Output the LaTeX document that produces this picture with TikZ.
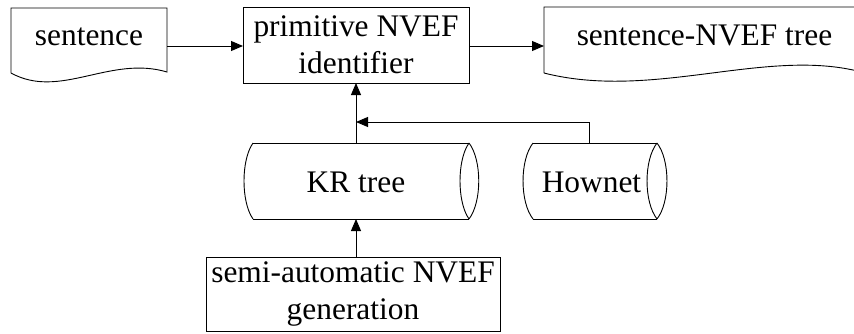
\documentclass[tikz,border=0pt]{standalone}
\usepackage{fontspec}
\setmainfont{Liberation Serif}
\newfontfamily\tnrfont{Liberation Serif}
\usetikzlibrary{arrows.meta}
\tikzset{
  shapeline/.style={draw=black, line width=0.9pt},
  conn/.style={draw=black, line width=0.9pt, -{Triangle[length=12pt,width=10pt]}},
  lbl/.style={inner sep=0pt, font=\tnrfont\fontsize{31.4}{37}\selectfont, align=center},
  area/.style={inner sep=0pt, outer sep=0pt},
}
\begin{document}
\begin{tikzpicture}[x=1pt,y=-1pt]
\useasboundingbox (0,0) rectangle (854,333);
\clip (0,0) rectangle (854,333);

% --- invisible areas (named nodes) ---
\node[area, minimum width=156pt, minimum height=65pt] (sent) at (89,40.5) {};
\node[area, minimum width=226pt, minimum height=76pt] (prim) at (356,45) {};
\node[area, minimum width=309pt, minimum height=66pt] (tree) at (698.5,40) {};
\node[area, minimum width=235pt, minimum height=76pt] (kr) at (361.5,181) {};
\node[area, minimum width=144pt, minimum height=76pt] (hown) at (595,181) {};
\node[area, minimum width=294pt, minimum height=74pt] (semi) at (353,294) {};

% --- sentence document ---
\draw[shapeline] (11,73) -- (11,8) -- (167,8) -- (167,72)
  .. controls (110,55) and (60,100) .. (11,73);
% --- primitive NVEF identifier ---
\draw[shapeline] (prim.north west) rectangle (prim.south east);
% --- sentence-NVEF tree document ---
\draw[shapeline] (544,73) -- (544,7) -- (860,7) -- (860,71) -- (853,70)
  .. controls (760,50) and (650,100) .. (544,73);
% --- KR tree cylinder ---
\draw[shapeline] (253,143) -- (469,143);
\draw[shapeline] (253,219) -- (469,219);
\draw[shapeline] (253,143) .. controls (241,160) and (241,202) .. (253,219);
\draw[shapeline] (469,143) .. controls (457,160) and (457,202) .. (469,219);
\draw[shapeline] (469,143) .. controls (482,160) and (482,202) .. (469,219);
% --- Howenet cylinder ---
\draw[shapeline] (533,143) -- (657,143);
\draw[shapeline] (533,219) -- (657,219);
\draw[shapeline] (533,143) .. controls (519.7,160) and (519.7,202) .. (533,219);
\draw[shapeline] (657,143) .. controls (643.7,160) and (643.7,202) .. (657,219);
\draw[shapeline] (657,143) .. controls (670.3,160) and (670.3,202) .. (657,219);
% --- semi-automatic box ---
\draw[shapeline] (semi.north west) rectangle (semi.south east);

% --- texts ---
\node[lbl, anchor=base] (tsent) at (89,45) {sentence};
\node[lbl] (tprim) at (356,44.5) {primitive NVEF\\identifier};
\node[lbl, anchor=base] (ttree) at (704.5,45) {sentence-NVEF tree};
\node[lbl, anchor=base] (tkr) at (356,192) {KR tree};
\node[lbl, anchor=base] (thown) at (591.5,192) {Hownet};
\node[lbl] (tsemi) at (353,294) {semi-automatic NVEF\\generation};

% --- connectors ---
\coordinate (krtop) at (kr.north -| prim.south);
\coordinate (bend) at (589,122);
\coordinate (hstart) at (589,143);
\coordinate (join) at (prim.south |- bend);
\coordinate (sL) at (167,46);
\coordinate (pL) at (243,46);
\coordinate (pR) at (469,46);
\coordinate (tL) at (544,46);
\draw[conn] (sL) -- (pL);
\draw[conn] (pR) -- (tL);
\draw[conn] (krtop) -- (prim.south);
\draw[conn] (hstart) |- (join);
\draw[conn] (semi.north -| krtop) -- (kr.south -| krtop);
\end{tikzpicture}
\end{document}
